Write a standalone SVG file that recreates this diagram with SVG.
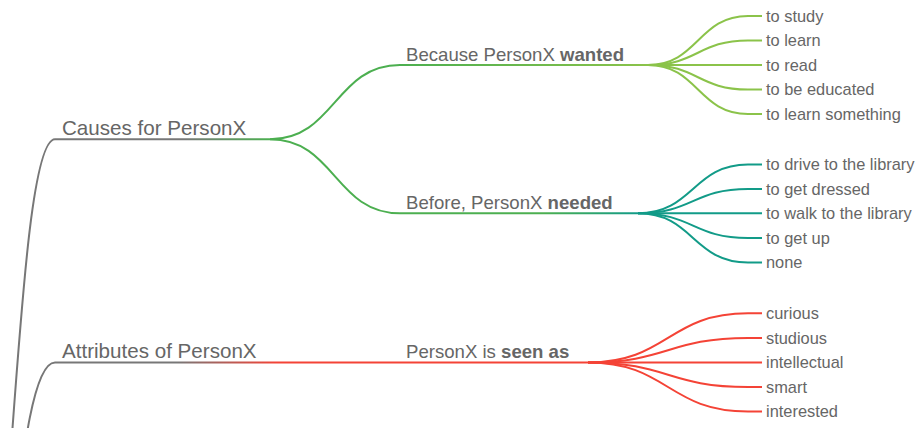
<svg xmlns="http://www.w3.org/2000/svg" width="917" height="428" viewBox="0 0 917 428">
<style>
text{font-family:"Liberation Sans",Arial,Helvetica,sans-serif;fill:#666}
.l1{font-size:20.6px}
.l2{font-size:18.6px}
.lf{font-size:16.4px}
.b{font-weight:bold}
path,line{fill:none;stroke-width:2;stroke-linecap:butt}
.gray{stroke:#777}
.green{stroke:#4caf50}
.lgreen{stroke:#8bc34a}
.teal{stroke:#129b88}
.red{stroke:#f44336}
</style>
<defs>
<linearGradient id="gCauses" gradientUnits="userSpaceOnUse" x1="55" y1="0" x2="270" y2="0">
<stop offset="0" stop-color="#777"/><stop offset="0.6" stop-color="#777"/><stop offset="1" stop-color="#4caf50"/>
</linearGradient>
<linearGradient id="gAttr" gradientUnits="userSpaceOnUse" x1="55" y1="0" x2="277" y2="0">
<stop offset="0" stop-color="#777"/><stop offset="0.55" stop-color="#777"/><stop offset="1" stop-color="#f44336"/>
</linearGradient>
<linearGradient id="gWanted" gradientUnits="userSpaceOnUse" x1="400" y1="0" x2="648" y2="0">
<stop offset="0" stop-color="#4caf50"/><stop offset="0.5" stop-color="#6bb84d"/><stop offset="1" stop-color="#8bc34a"/>
</linearGradient>
<linearGradient id="gNeeded" gradientUnits="userSpaceOnUse" x1="400" y1="0" x2="638" y2="0">
<stop offset="0" stop-color="#4caf50"/><stop offset="0.6" stop-color="#4caf50"/><stop offset="1" stop-color="#129b88"/>
</linearGradient>
</defs>

<g id="connectors">
<path class="gray" d="M-30,717 C12.5,717 12.5,139.3 55,139.3"/>
<path class="gray" d="M-30,717 C12.5,717 12.5,362.5 55,362.5"/>
<path class="green" d="M270,139.3 C335,139.3 335,65 400,65"/>
<path class="green" d="M270,139.3 C335,139.3 335,213.3 400,213.3"/>
<path class="red" d="M277,362.5 L400,362.5"/>
<path class="lgreen" d="M648,65 C698,65 698,16 748,16 L762,16"/>
<path class="lgreen" d="M648,65 C698,65 698,40.5 748,40.5 L762,40.5"/>
<path class="lgreen" d="M648,65 L762,65"/>
<path class="lgreen" d="M648,65 C698,65 698,89.5 748,89.5 L762,89.5"/>
<path class="lgreen" d="M648,65 C698,65 698,114 748,114 L762,114"/>
<path class="teal" d="M638,213.3 C693,213.3 693,164.5 748,164.5 L762,164.5"/>
<path class="teal" d="M638,213.3 C693,213.3 693,189 748,189 L762,189"/>
<path class="teal" d="M638,213.3 L762,213.3"/>
<path class="teal" d="M638,213.3 C693,213.3 693,238 748,238 L762,238"/>
<path class="teal" d="M638,213.3 C693,213.3 693,262.5 748,262.5 L762,262.5"/>
<path class="red" d="M588,362.5 C668,362.5 668,313.3 748,313.3 L762,313.3"/>
<path class="red" d="M588,362.5 C668,362.5 668,338 748,338 L762,338"/>
<path class="red" d="M588,362.5 L762,362.5"/>
<path class="red" d="M588,362.5 C668,362.5 668,387 748,387 L762,387"/>
<path class="red" d="M588,362.5 C668,362.5 668,411.5 748,411.5 L762,411.5"/>
</g>

<g id="node-causes">
<line x1="55" y1="139.3" x2="270" y2="139.3" stroke="url(#gCauses)"/>
<text class="l1" x="62" y="135">Causes for PersonX</text>
</g>
<g id="node-attributes">
<line x1="55" y1="362.5" x2="277" y2="362.5" stroke="url(#gAttr)"/>
<text class="l1" x="62" y="358">Attributes of PersonX</text>
</g>
<g id="node-wanted">
<line x1="400" y1="65" x2="648" y2="65" stroke="url(#gWanted)"/>
<text class="l2" x="406" y="60.5">Because PersonX <tspan class="b">wanted</tspan></text>
</g>
<g id="node-needed">
<line x1="400" y1="213.3" x2="638" y2="213.3" stroke="url(#gNeeded)"/>
<text class="l2" x="406" y="208.5">Before, PersonX <tspan class="b">needed</tspan></text>
</g>
<g id="node-seen">
<line class="red" x1="400" y1="362.5" x2="588" y2="362.5"/>
<text class="l2" x="406" y="358">PersonX is <tspan class="b">seen as</tspan></text>
</g>

<g id="node-study"><text class="lf" x="766" y="21.5">to study</text></g>
<g id="node-learn"><text class="lf" x="766" y="46">to learn</text></g>
<g id="node-read"><text class="lf" x="766" y="70.5">to read</text></g>
<g id="node-educated"><text class="lf" x="766" y="95">to be educated</text></g>
<g id="node-learn-something"><text class="lf" x="766" y="119.5">to learn something</text></g>

<g id="node-drive"><text class="lf" x="766" y="170">to drive to the library</text></g>
<g id="node-dressed"><text class="lf" x="766" y="194.5">to get dressed</text></g>
<g id="node-walk"><text class="lf" x="766" y="218.8">to walk to the library</text></g>
<g id="node-getup"><text class="lf" x="766" y="243.5">to get up</text></g>
<g id="node-none"><text class="lf" x="766" y="268">none</text></g>

<g id="node-curious"><text class="lf" x="766" y="318.8">curious</text></g>
<g id="node-studious"><text class="lf" x="766" y="343.5">studious</text></g>
<g id="node-intellectual"><text class="lf" x="766" y="368">intellectual</text></g>
<g id="node-smart"><text class="lf" x="766" y="392.5">smart</text></g>
<g id="node-interested"><text class="lf" x="766" y="417">interested</text></g>
</svg>
